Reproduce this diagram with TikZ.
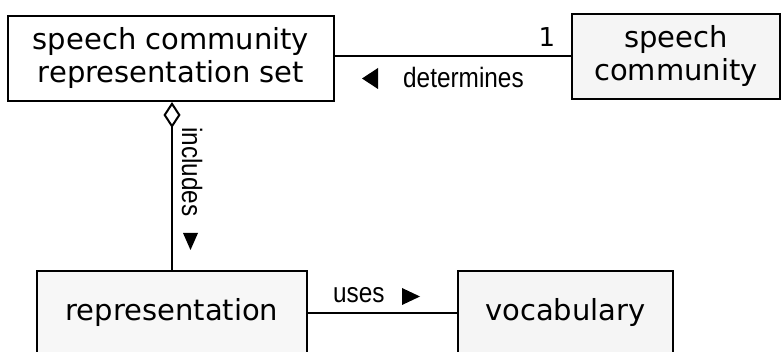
\documentclass[tikz,border=0pt]{standalone}
\usepackage{fontspec}
\usetikzlibrary{arrows.meta}
\newfontfamily\boxfont{DejaVu Sans}
\newfontfamily\rolefont[FakeStretch=0.87]{Liberation Sans}

\begin{document}
\begin{tikzpicture}[x=1pt, y=-1pt,
        classbox/.style={draw, line width=2pt, inner sep=0pt, align=center,
                         font=\boxfont\fontsize{29}{33}\selectfont},
        rolelabel/.style={inner sep=0pt, font=\rolefont\fontsize{28}{32}\selectfont},
        assoc/.style={line width=2pt},
        >=Stealth
    ]
        \clip (0,0) rectangle (782,352);

        \node[classbox, fill=white, minimum width=326pt, minimum height=85pt] (set) at (171,58.5) {speech community\\representation set};
        \node[classbox, fill=gray!8, minimum width=208pt, minimum height=85pt] (comm) at (676,56.5) {speech\\community};
        \node[classbox, fill=gray!6, minimum width=270pt, minimum height=84pt] (repr) at (172,313) {representation};
        \node[classbox, fill=gray!8, minimum width=215pt, minimum height=84pt] (vocab) at (565.5,313) {vocabulary};

        % associations
        \draw[assoc] (comm.west) -- (comm.west -| set.east);
        \draw[assoc, -{Diamond[open, length=26pt, width=17pt]}] (repr.north) -- (repr.north |- set.south);
        \draw[assoc] (repr.east) -- (vocab.west);

        % role names and reading directions
        \node[anchor=base, inner sep=0pt, font=\boxfont\fontsize{26}{30}\selectfont] (one) at (547,47) {1};
        \node[rolelabel, anchor=base west] (det) at (403,88) {determines};
        \node[rolelabel, anchor=base west, rotate=-90] (incl) at (182,127) {includes};
        \node[rolelabel, anchor=base west] (uses) at (333,303) {uses};
        \fill (362,78.5) -- (378,68) -- (378,89) -- cycle;
        \fill (183,233) -- (198,233) -- (190.5,250) -- cycle;
        \fill (402,288) -- (402,305) -- (420,296.5) -- cycle;
    \end{tikzpicture}
\end{document}
